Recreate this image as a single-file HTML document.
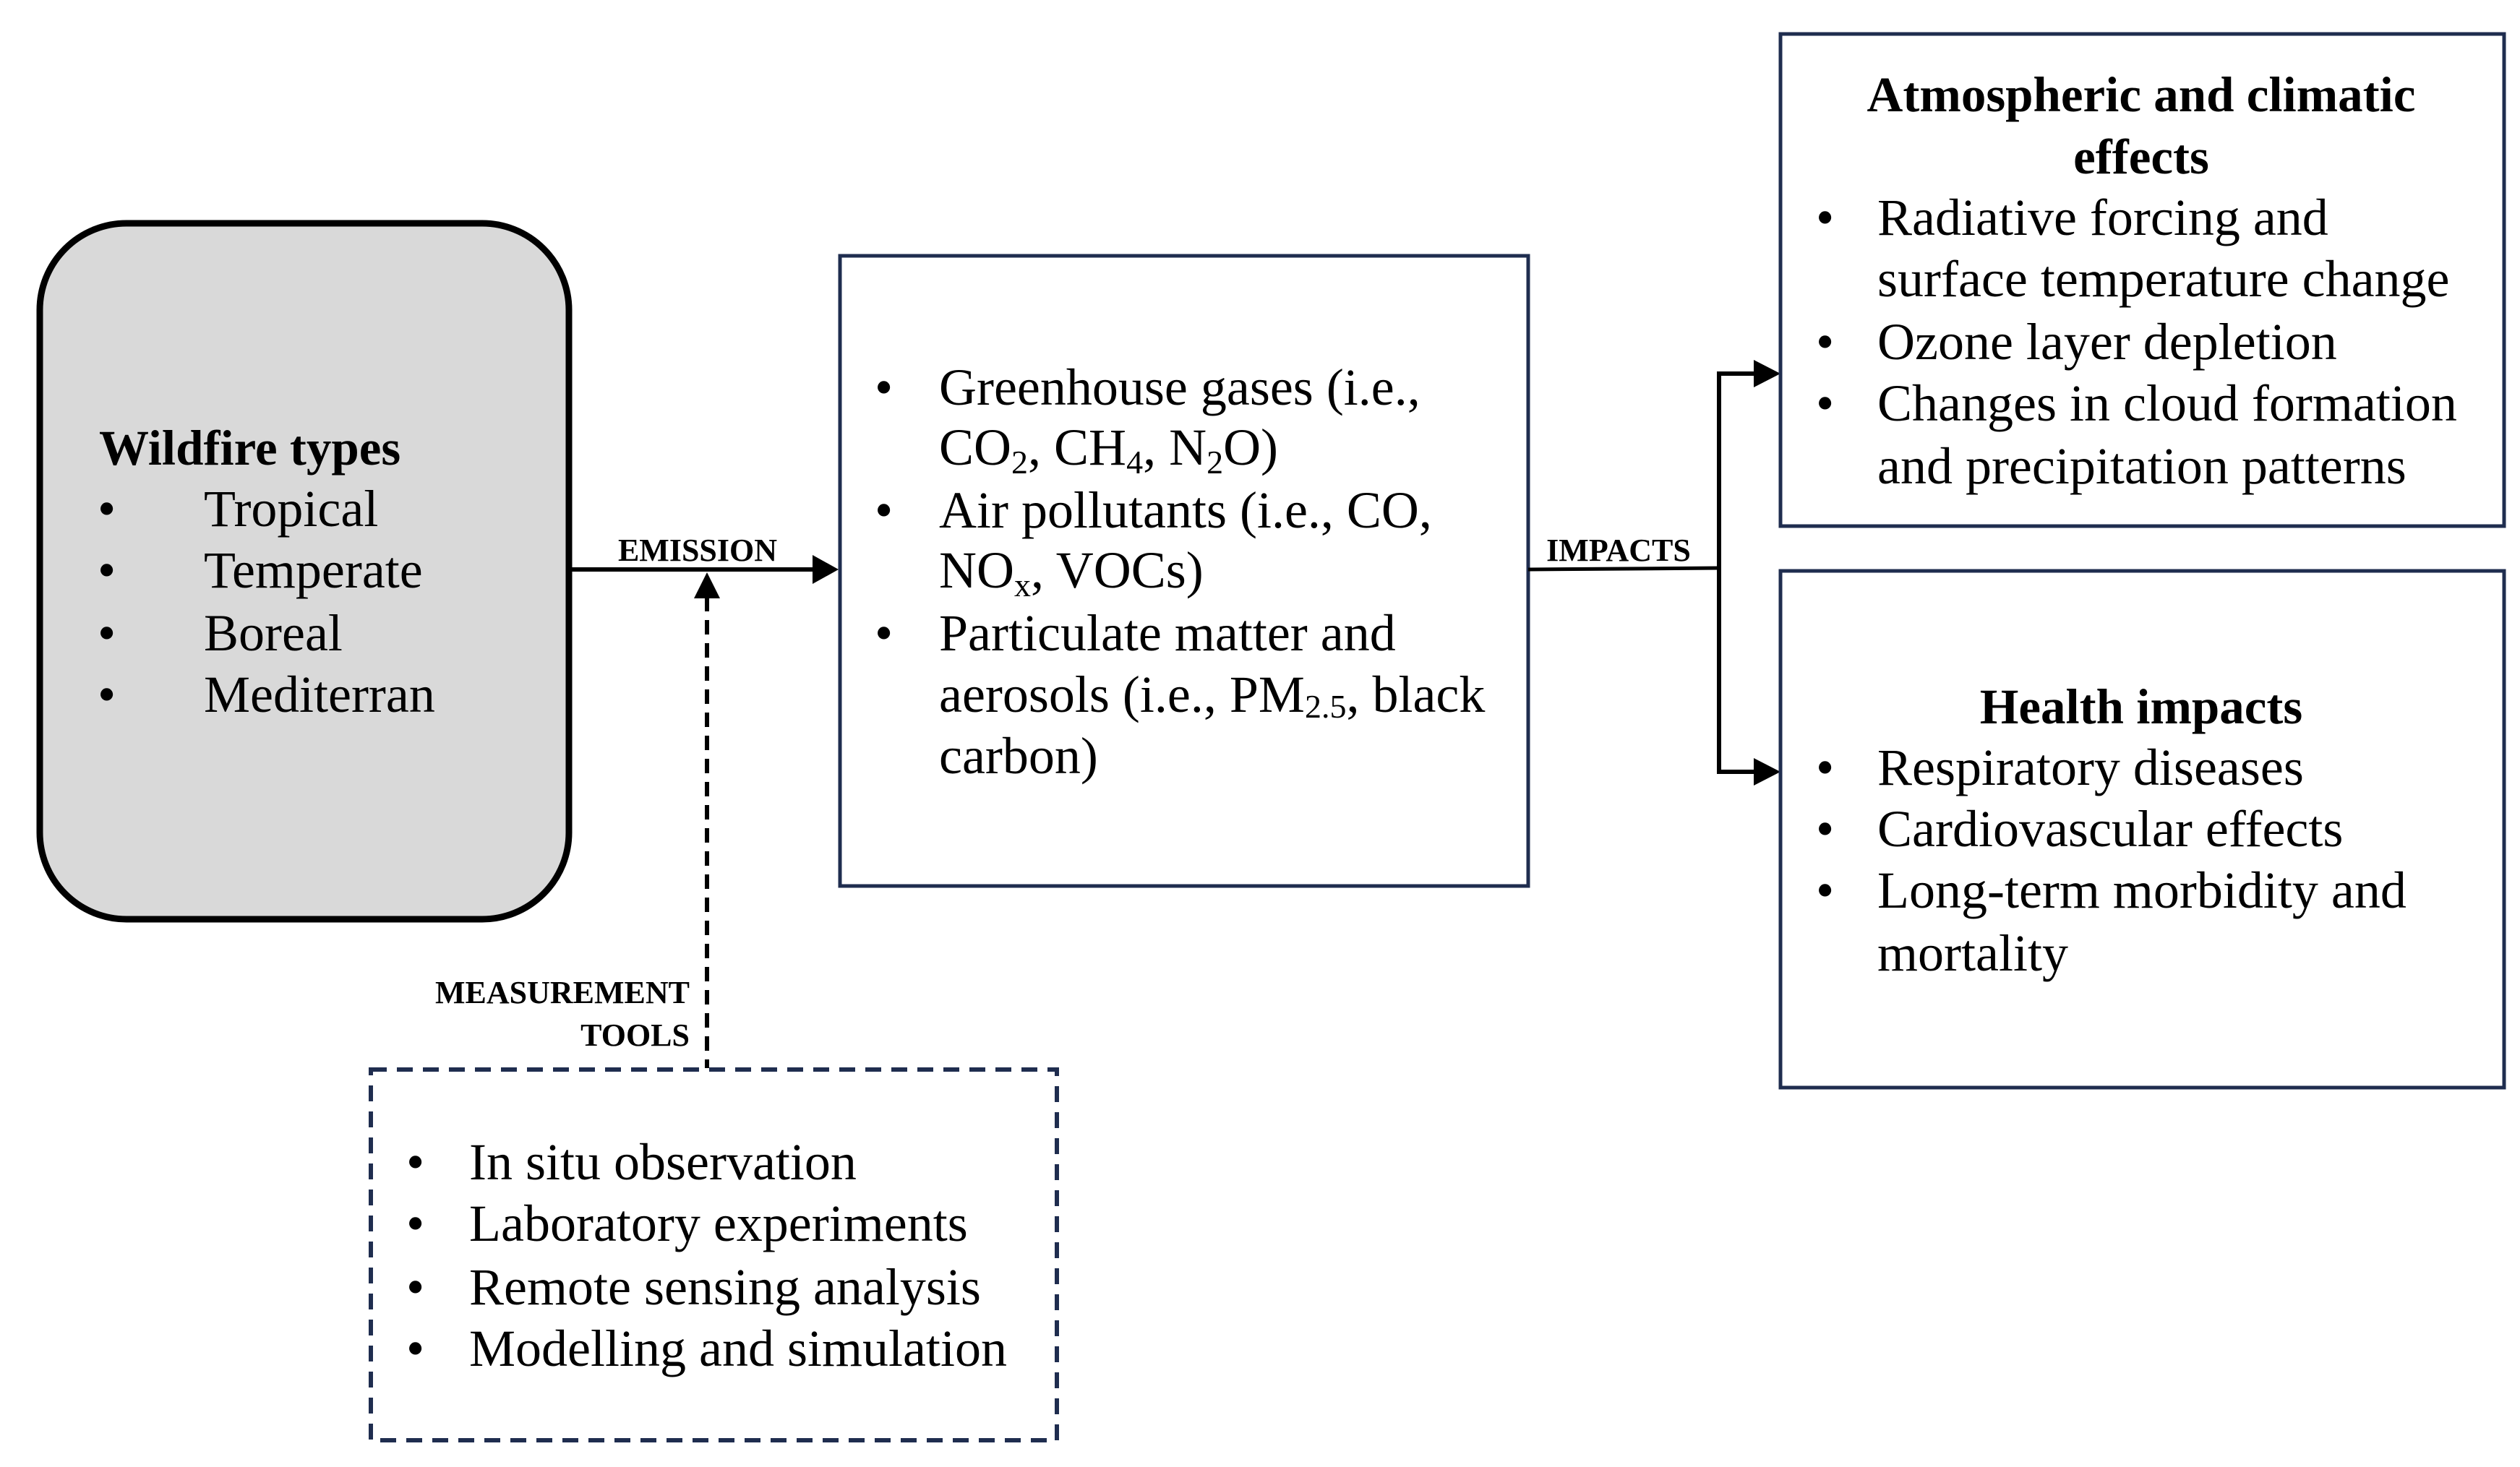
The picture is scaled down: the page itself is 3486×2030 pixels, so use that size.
<!DOCTYPE html>
<html><head><meta charset="utf-8"><style>
html,body{margin:0;padding:0;background:#fff;}
svg{display:block;}
text{font-family:"Liberation Serif",serif;fill:#000;}
.t{font-size:72px;}
.b{font-size:69px;font-weight:bold;}
.s{font-size:44px;font-weight:bold;}
</style></head><body>
<svg width="3486" height="2030" viewBox="0 0 3486 2030" xmlns="http://www.w3.org/2000/svg">
<rect x="55" y="309" width="732" height="963" rx="120" ry="120" fill="#d9d9d9" stroke="#000" stroke-width="9"/>
<text class="b" x="137" y="643">Wildfire types</text>
<g class="t">
<text x="135" y="728">•</text><text x="282" y="728">Tropical</text>
<text x="135" y="813">•</text><text x="282" y="813">Temperate</text>
<text x="135" y="900">•</text><text x="282" y="900">Boreal</text>
<text x="135" y="985">•</text><text x="282" y="985">Mediterran</text>
</g>
<line x1="790" y1="788" x2="1128" y2="788" stroke="#000" stroke-width="6"/>
<polygon points="1160,788 1124,768 1124,808" fill="#000"/>
<text class="s" x="965" y="776" text-anchor="middle">EMISSION</text>
<line x1="978" y1="826" x2="978" y2="1478" stroke="#000" stroke-width="6" stroke-dasharray="20,12"/>
<polygon points="978,792 960,828 996,828" fill="#000"/>
<text class="s" x="954" y="1388" text-anchor="end">MEASUREMENT</text>
<text class="s" x="954" y="1447" text-anchor="end">TOOLS</text>
<rect x="1162" y="354" width="952" height="872" fill="#fff" stroke="#1f2d4f" stroke-width="5"/>
<g class="t">
<text x="1210" y="560">•</text><text x="1299" y="560">Greenhouse gases (i.e.,</text>
<text x="1299" y="643">CO<tspan font-size="46" dy="12">2</tspan><tspan dy="-12">, CH</tspan><tspan font-size="46" dy="12">4</tspan><tspan dy="-12">, N</tspan><tspan font-size="46" dy="12">2</tspan><tspan dy="-12">O)</tspan></text>
<text x="1210" y="730">•</text><text x="1299" y="730">Air pollutants (i.e., CO,</text>
<text x="1299" y="813">NO<tspan font-size="46" dy="12">x</tspan><tspan dy="-12">, VOCs)</tspan></text>
<text x="1210" y="900">•</text><text x="1299" y="900">Particulate matter and</text>
<text x="1299" y="985">aerosols (i.e., PM<tspan font-size="46" dy="8">2.5</tspan><tspan dy="-8">, black</tspan></text>
<text x="1299" y="1070">carbon)</text>
</g>
<line x1="2114" y1="788" x2="2378" y2="786" stroke="#000" stroke-width="5"/>
<text class="s" x="2239" y="776" text-anchor="middle">IMPACTS</text>
<polyline points="2430,517 2378,517 2378,1068 2430,1068" fill="none" stroke="#000" stroke-width="6"/>
<polygon points="2463,517 2426,498 2426,536" fill="#000"/>
<polygon points="2463,1068 2426,1049 2426,1087" fill="#000"/>
<rect x="2463" y="47" width="1001" height="681" fill="#fff" stroke="#1f2d4f" stroke-width="5"/>
<text class="b" x="2962" y="154" text-anchor="middle">Atmospheric and climatic</text>
<text class="b" x="2962" y="240" text-anchor="middle">effects</text>
<g class="t">
<text x="2512" y="325">•</text><text x="2597" y="325">Radiative forcing and</text>
<text x="2597" y="410">surface temperature change</text>
<text x="2512" y="497">•</text><text x="2597" y="497">Ozone layer depletion</text>
<text x="2512" y="582">•</text><text x="2597" y="582">Changes in cloud formation</text>
<text x="2597" y="669">and precipitation patterns</text>
</g>
<rect x="2463" y="790" width="1001" height="715" fill="#fff" stroke="#1f2d4f" stroke-width="5"/>
<text class="b" x="2962" y="1001" text-anchor="middle">Health impacts</text>
<g class="t">
<text x="2512" y="1086">•</text><text x="2597" y="1086">Respiratory diseases</text>
<text x="2512" y="1171">•</text><text x="2597" y="1171">Cardiovascular effects</text>
<text x="2512" y="1256">•</text><text x="2597" y="1256">Long-term morbidity and</text>
<text x="2597" y="1343">mortality</text>
</g>
<rect x="513" y="1480" width="949" height="513" fill="#fff" stroke="#1f2d4f" stroke-width="6" stroke-dasharray="22,14"/>
<g class="t">
<text x="562" y="1632">•</text><text x="649" y="1632">In situ observation</text>
<text x="562" y="1717">•</text><text x="649" y="1717">Laboratory experiments</text>
<text x="562" y="1805">•</text><text x="649" y="1805">Remote sensing analysis</text>
<text x="562" y="1890">•</text><text x="649" y="1890">Modelling and simulation</text>
</g>
</svg>
</body></html>
